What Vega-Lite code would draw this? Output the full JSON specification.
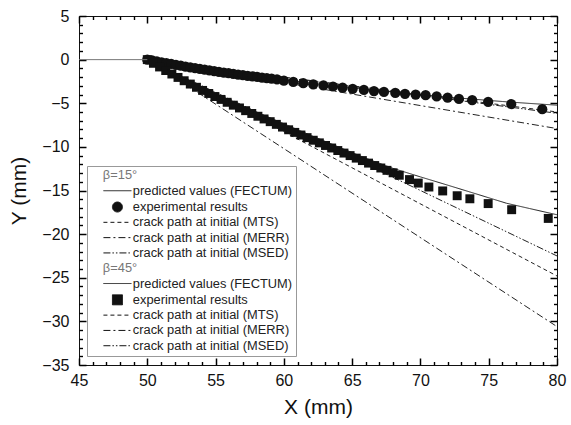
{
  "$schema": "https://vega.github.io/schema/vega-lite/v6.json",
  "width": 478,
  "height": 349,
  "autosize": "none",
  "padding": {"left": 79, "top": 16, "right": 14, "bottom": 60},
  "datasets": {
    "lines": [
      {"s": "f15", "x": 50, "y": 0}, {"s": "f15", "x": 52, "y": -0.55}, {"s": "f15", "x": 54, "y": -1.05}, {"s": "f15", "x": 56, "y": -1.5}, {"s": "f15", "x": 58, "y": -1.92}, {"s": "f15", "x": 60, "y": -2.3}, {"s": "f15", "x": 62, "y": -2.7}, {"s": "f15", "x": 64, "y": -3.05}, {"s": "f15", "x": 66, "y": -3.4}, {"s": "f15", "x": 68, "y": -3.72}, {"s": "f15", "x": 70, "y": -4.02}, {"s": "f15", "x": 72, "y": -4.3}, {"s": "f15", "x": 74, "y": -4.55}, {"s": "f15", "x": 76, "y": -4.8}, {"s": "f15", "x": 78, "y": -5.02}, {"s": "f15", "x": 80, "y": -5.22},
      {"s": "mts15", "x": 50, "y": 0}, {"s": "mts15", "x": 80, "y": -6.0},
      {"s": "merr15", "x": 50, "y": 0}, {"s": "merr15", "x": 80, "y": -7.9},
      {"s": "msed15", "x": 50, "y": 0}, {"s": "msed15", "x": 80, "y": -6.15},
      {"s": "f45", "x": 50, "y": 0}, {"s": "f45", "x": 51, "y": -0.82}, {"s": "f45", "x": 52, "y": -1.6}, {"s": "f45", "x": 54, "y": -3.2}, {"s": "f45", "x": 56, "y": -4.6}, {"s": "f45", "x": 58, "y": -6.0}, {"s": "f45", "x": 60, "y": -7.35}, {"s": "f45", "x": 62, "y": -8.7}, {"s": "f45", "x": 64, "y": -10.0}, {"s": "f45", "x": 66, "y": -11.3}, {"s": "f45", "x": 68, "y": -12.47}, {"s": "f45", "x": 70, "y": -13.44}, {"s": "f45", "x": 72, "y": -14.39}, {"s": "f45", "x": 74, "y": -15.35}, {"s": "f45", "x": 76.3, "y": -16.46}, {"s": "f45", "x": 78, "y": -17.07}, {"s": "f45", "x": 80, "y": -17.78},
      {"s": "mts45", "x": 50, "y": 0}, {"s": "mts45", "x": 80, "y": -24.8},
      {"s": "merr45", "x": 50, "y": 0}, {"s": "merr45", "x": 80, "y": -30.6},
      {"s": "msed45", "x": 50, "y": 0}, {"s": "msed45", "x": 80, "y": -22.5}
    ],
    "crack": [{"x": 45, "y": 0}, {"x": 50, "y": 0}],
    "points": [
      {"s": "e15", "x": 50.0, "y": 0}, {"s": "e15", "x": 50.35, "y": -0.1}, {"s": "e15", "x": 50.7, "y": -0.21}, {"s": "e15", "x": 51.05, "y": -0.31}, {"s": "e15", "x": 51.4, "y": -0.41}, {"s": "e15", "x": 51.75, "y": -0.5}, {"s": "e15", "x": 52.1, "y": -0.6}, {"s": "e15", "x": 52.45, "y": -0.7}, {"s": "e15", "x": 52.8, "y": -0.79}, {"s": "e15", "x": 53.15, "y": -0.88}, {"s": "e15", "x": 53.5, "y": -0.97}, {"s": "e15", "x": 53.85, "y": -1.06}, {"s": "e15", "x": 54.2, "y": -1.15}, {"s": "e15", "x": 54.55, "y": -1.23}, {"s": "e15", "x": 54.9, "y": -1.31}, {"s": "e15", "x": 55.25, "y": -1.4}, {"s": "e15", "x": 55.6, "y": -1.48}, {"s": "e15", "x": 55.95, "y": -1.56}, {"s": "e15", "x": 56.3, "y": -1.63}, {"s": "e15", "x": 56.65, "y": -1.71}, {"s": "e15", "x": 57.0, "y": -1.78}, {"s": "e15", "x": 57.35, "y": -1.85}, {"s": "e15", "x": 57.7, "y": -1.93}, {"s": "e15", "x": 58.05, "y": -1.99}, {"s": "e15", "x": 58.4, "y": -2.06}, {"s": "e15", "x": 58.75, "y": -2.13}, {"s": "e15", "x": 59.1, "y": -2.19}, {"s": "e15", "x": 59.5, "y": -2.27}, {"s": "e15", "x": 60.0, "y": -2.4}, {"s": "e15", "x": 60.69, "y": -2.56}, {"s": "e15", "x": 61.42, "y": -2.7}, {"s": "e15", "x": 62.15, "y": -2.83}, {"s": "e15", "x": 62.9, "y": -2.96}, {"s": "e15", "x": 63.6, "y": -3.08}, {"s": "e15", "x": 64.3, "y": -3.22}, {"s": "e15", "x": 65.04, "y": -3.35}, {"s": "e15", "x": 65.86, "y": -3.48}, {"s": "e15", "x": 66.6, "y": -3.6}, {"s": "e15", "x": 67.33, "y": -3.71}, {"s": "e15", "x": 68.16, "y": -3.82}, {"s": "e15", "x": 68.87, "y": -3.92}, {"s": "e15", "x": 69.65, "y": -4.0}, {"s": "e15", "x": 70.38, "y": -4.07}, {"s": "e15", "x": 71.19, "y": -4.22}, {"s": "e15", "x": 71.99, "y": -4.36}, {"s": "e15", "x": 72.82, "y": -4.5}, {"s": "e15", "x": 73.79, "y": -4.65}, {"s": "e15", "x": 74.96, "y": -4.83}, {"s": "e15", "x": 76.65, "y": -5.1}, {"s": "e15", "x": 78.92, "y": -5.68},
      {"s": "e45", "x": 50.0, "y": 0}, {"s": "e45", "x": 50.45, "y": -0.42}, {"s": "e45", "x": 50.9, "y": -0.84}, {"s": "e45", "x": 51.35, "y": -1.25}, {"s": "e45", "x": 51.8, "y": -1.65}, {"s": "e45", "x": 52.25, "y": -2.04}, {"s": "e45", "x": 52.7, "y": -2.42}, {"s": "e45", "x": 53.15, "y": -2.8}, {"s": "e45", "x": 53.6, "y": -3.17}, {"s": "e45", "x": 54.05, "y": -3.53}, {"s": "e45", "x": 54.5, "y": -3.88}, {"s": "e45", "x": 54.95, "y": -4.23}, {"s": "e45", "x": 55.4, "y": -4.56}, {"s": "e45", "x": 55.85, "y": -4.89}, {"s": "e45", "x": 56.3, "y": -5.22}, {"s": "e45", "x": 56.75, "y": -5.54}, {"s": "e45", "x": 57.2, "y": -5.85}, {"s": "e45", "x": 57.65, "y": -6.17}, {"s": "e45", "x": 58.1, "y": -6.49}, {"s": "e45", "x": 58.55, "y": -6.8}, {"s": "e45", "x": 59.0, "y": -7.11}, {"s": "e45", "x": 59.45, "y": -7.42}, {"s": "e45", "x": 59.9, "y": -7.73}, {"s": "e45", "x": 60.35, "y": -8.04}, {"s": "e45", "x": 60.8, "y": -8.34}, {"s": "e45", "x": 61.25, "y": -8.64}, {"s": "e45", "x": 61.7, "y": -8.94}, {"s": "e45", "x": 62.15, "y": -9.24}, {"s": "e45", "x": 62.6, "y": -9.54}, {"s": "e45", "x": 63.05, "y": -9.84}, {"s": "e45", "x": 63.5, "y": -10.13}, {"s": "e45", "x": 63.95, "y": -10.42}, {"s": "e45", "x": 64.4, "y": -10.71}, {"s": "e45", "x": 64.85, "y": -11.0}, {"s": "e45", "x": 65.3, "y": -11.29}, {"s": "e45", "x": 65.75, "y": -11.57}, {"s": "e45", "x": 66.2, "y": -11.86}, {"s": "e45", "x": 66.65, "y": -12.14}, {"s": "e45", "x": 67.1, "y": -12.42}, {"s": "e45", "x": 67.55, "y": -12.69}, {"s": "e45", "x": 68.0, "y": -12.97}, {"s": "e45", "x": 68.45, "y": -13.25}, {"s": "e45", "x": 69.2, "y": -13.75}, {"s": "e45", "x": 69.84, "y": -14.15}, {"s": "e45", "x": 70.62, "y": -14.6}, {"s": "e45", "x": 71.63, "y": -15.05}, {"s": "e45", "x": 72.69, "y": -15.6}, {"s": "e45", "x": 73.62, "y": -15.95}, {"s": "e45", "x": 74.96, "y": -16.5}, {"s": "e45", "x": 76.68, "y": -17.2}, {"s": "e45", "x": 79.36, "y": -18.2}
    ]
  },
  "layer": [
    {
      "data": {"name": "lines"},
      "mark": {"type": "line", "color": "#222", "strokeWidth": 1},
      "encoding": {
        "x": {"field": "x", "type": "quantitative", "scale": {"domain": [45, 80], "nice": false, "zero": false},
          "axis": {"orient": "bottom", "title": "X (mm)", "values": [45, 50, 55, 60, 65, 70, 75, 80], "domain": false, "offset": -7, "tickSize": 7, "tickColor": "#000", "tickWidth": 1.5, "labelPadding": 7, "titlePadding": 8, "labelFlush": false, "labelOverlap": false}},
        "y": {"field": "y", "type": "quantitative", "scale": {"domain": [-35, 5], "nice": false, "zero": false},
          "axis": {"orient": "left", "title": "Y (mm)", "values": [-35, -30, -25, -20, -15, -10, -5, 0, 5], "domain": false, "offset": -7, "tickSize": 7, "tickColor": "#000", "tickWidth": 1.5, "labelPadding": 10, "titlePadding": 12, "labelFlush": false, "labelOverlap": false}},
        "strokeDash": {"field": "s", "type": "nominal",
          "scale": {"domain": ["h15","f15","e15","mts15","merr15","msed15","h45","f45","e45","mts45","merr45","msed45"],
            "range": [[1,0],[1,0],[1,0],[4,3],[7,3,2,3],[7,2,1.5,2,1.5,2],[1,0],[1,0],[1,0],[4,3],[7,3,2,3],[7,2,1.5,2,1.5,2]]},
          "legend": {
            "title": null, "orient": "none", "legendX": 8, "legendY": 150, "direction": "vertical",
            "padding": 3, "rowPadding": 1.3, "symbolOffset": 21, "labelOffset": 9,
            "symbolSize": 100, "symbolStrokeWidth": 1, "symbolStrokeColor": "#111", "symbolFillColor": "#111",
            "labelFont": "Liberation Sans", "labelFontSize": 12.85, "labelColor": "#222", "labelLimit": 400,
            "fillColor": "white", "strokeColor": "#999", "cornerRadius": 0, "zindex": 1,
            "labelExpr": "['β=15°','predicted values (FECTUM)','experimental results','crack path at initial (MTS)','crack path at initial (MERR)','crack path at initial (MSED)','β=45°','predicted values (FECTUM)','experimental results','crack path at initial (MTS)','crack path at initial (MERR)','crack path at initial (MSED)'][indexof(['h15','f15','e15','mts15','merr15','msed15','h45','f45','e45','mts45','merr45','msed45'], datum.value)]",
            "encode": {
              "labels": {"update": {"dx": {"signal": "(datum.value === 'h15' || datum.value === 'h45') ? -30 : 0"}, "fill": {"signal": "(datum.value === 'h15' || datum.value === 'h45') ? '#777' : '#222'"}}},
              "symbols": {"update": {"fill": {"value": "#111"}, "stroke": {"value": "#111"}, "strokeWidth": {"value": 1}, "opacity": {"value": 1}}}
            }
          }
        }
      }
    },
    {
      "data": {"name": "points"},
      "transform": [{"filter": "datum.s === 'e15'"}],
      "mark": {"type": "point", "filled": true, "color": "#111", "opacity": 1, "size": 105},
      "encoding": {
        "x": {"field": "x", "type": "quantitative",
          "axis": {"orient": "bottom", "title": null, "labels": false, "domain": false, "offset": -3.5, "tickSize": 3.5, "tickColor": "#000", "tickWidth": 1.4, "values": [46,47,48,49,51,52,53,54,56,57,58,59,61,62,63,64,66,67,68,69,71,72,73,74,76,77,78,79]}},
        "y": {"field": "y", "type": "quantitative",
          "axis": {"orient": "left", "title": null, "labels": false, "domain": false, "offset": -3.5, "tickSize": 3.5, "tickColor": "#000", "tickWidth": 1.4, "values": [-34,-33,-32,-31,-29,-28,-27,-26,-24,-23,-22,-21,-19,-18,-17,-16,-14,-13,-12,-11,-9,-8,-7,-6,-4,-3,-2,-1,1,2,3,4]}},
        "shape": {"field": "s", "type": "nominal",
          "scale": {"domain": ["h15","f15","e15","mts15","merr15","msed15","h45","f45","e45","mts45","merr45","msed45"],
            "range": ["M0,0", "M-2.8,0H2.8", "circle", "M-2.8,0H2.8", "M-2.8,0H2.8", "M-2.8,0H2.8", "M0,0", "M-2.8,0H2.8", "square", "M-2.8,0H2.8", "M-2.8,0H2.8", "M-2.8,0H2.8"]},
          "legend": {
            "title": null, "orient": "none", "legendX": 8, "legendY": 150, "direction": "vertical",
            "padding": 3, "rowPadding": 1.3, "symbolOffset": 21, "labelOffset": 9,
            "symbolSize": 100, "symbolStrokeWidth": 1, "symbolStrokeColor": "#111", "symbolFillColor": "#111",
            "labelFont": "Liberation Sans", "labelFontSize": 12.85, "labelColor": "#222", "labelLimit": 400,
            "fillColor": "white", "strokeColor": "#999", "cornerRadius": 0, "zindex": 1,
            "labelExpr": "['β=15°','predicted values (FECTUM)','experimental results','crack path at initial (MTS)','crack path at initial (MERR)','crack path at initial (MSED)','β=45°','predicted values (FECTUM)','experimental results','crack path at initial (MTS)','crack path at initial (MERR)','crack path at initial (MSED)'][indexof(['h15','f15','e15','mts15','merr15','msed15','h45','f45','e45','mts45','merr45','msed45'], datum.value)]",
            "encode": {
              "labels": {"update": {"dx": {"signal": "(datum.value === 'h15' || datum.value === 'h45') ? -30 : 0"}, "fill": {"signal": "(datum.value === 'h15' || datum.value === 'h45') ? '#777' : '#222'"}}},
              "symbols": {"update": {"fill": {"value": "#111"}, "stroke": {"value": "#111"}, "strokeWidth": {"value": 1}, "opacity": {"value": 1}}}
            }
          }
        }
      }
    },
    {
      "data": {"name": "points"},
      "transform": [{"filter": "datum.s === 'e45'"}],
      "mark": {"type": "point", "filled": true, "color": "#111", "opacity": 1, "size": 80},
      "encoding": {
        "x": {"field": "x", "type": "quantitative",
          "axis": {"orient": "top", "title": null, "labels": false, "domain": false, "offset": -7, "tickSize": 7, "tickColor": "#000", "tickWidth": 1.5, "values": [45, 50, 55, 60, 65, 70, 75, 80]}},
        "y": {"field": "y", "type": "quantitative",
          "axis": {"orient": "right", "title": null, "labels": false, "domain": false, "offset": -7, "tickSize": 7, "tickColor": "#000", "tickWidth": 1.5, "values": [-35, -30, -25, -20, -15, -10, -5, 0, 5]}},
        "shape": {"field": "s", "type": "nominal"}
      }
    },
    {
      "data": {"name": "crack"},
      "mark": {"type": "line", "color": "#777", "strokeWidth": 1},
      "encoding": {
        "x": {"field": "x", "type": "quantitative",
          "axis": {"orient": "top", "title": null, "labels": false, "domain": false, "offset": -3.5, "tickSize": 3.5, "tickColor": "#000", "tickWidth": 1.4, "values": [46,47,48,49,51,52,53,54,56,57,58,59,61,62,63,64,66,67,68,69,71,72,73,74,76,77,78,79]}},
        "y": {"field": "y", "type": "quantitative",
          "axis": {"orient": "right", "title": null, "labels": false, "domain": false, "offset": -3.5, "tickSize": 3.5, "tickColor": "#000", "tickWidth": 1.4, "values": [-34,-33,-32,-31,-29,-28,-27,-26,-24,-23,-22,-21,-19,-18,-17,-16,-14,-13,-12,-11,-9,-8,-7,-6,-4,-3,-2,-1,1,2,3,4]}}
      }
    }
  ],
  "resolve": {"axis": {"x": "independent", "y": "independent"}},
  "config": {
    "view": {"stroke": "#111", "strokeWidth": 1},
    "font": "Liberation Sans",
    "axis": {"grid": false, "domainColor": "#111", "labelColor": "#111", "titleColor": "#111", "labelFont": "Liberation Sans", "titleFont": "Liberation Sans", "labelFontSize": 16, "titleFontSize": 21, "titleFontWeight": "normal"}
  }
}
